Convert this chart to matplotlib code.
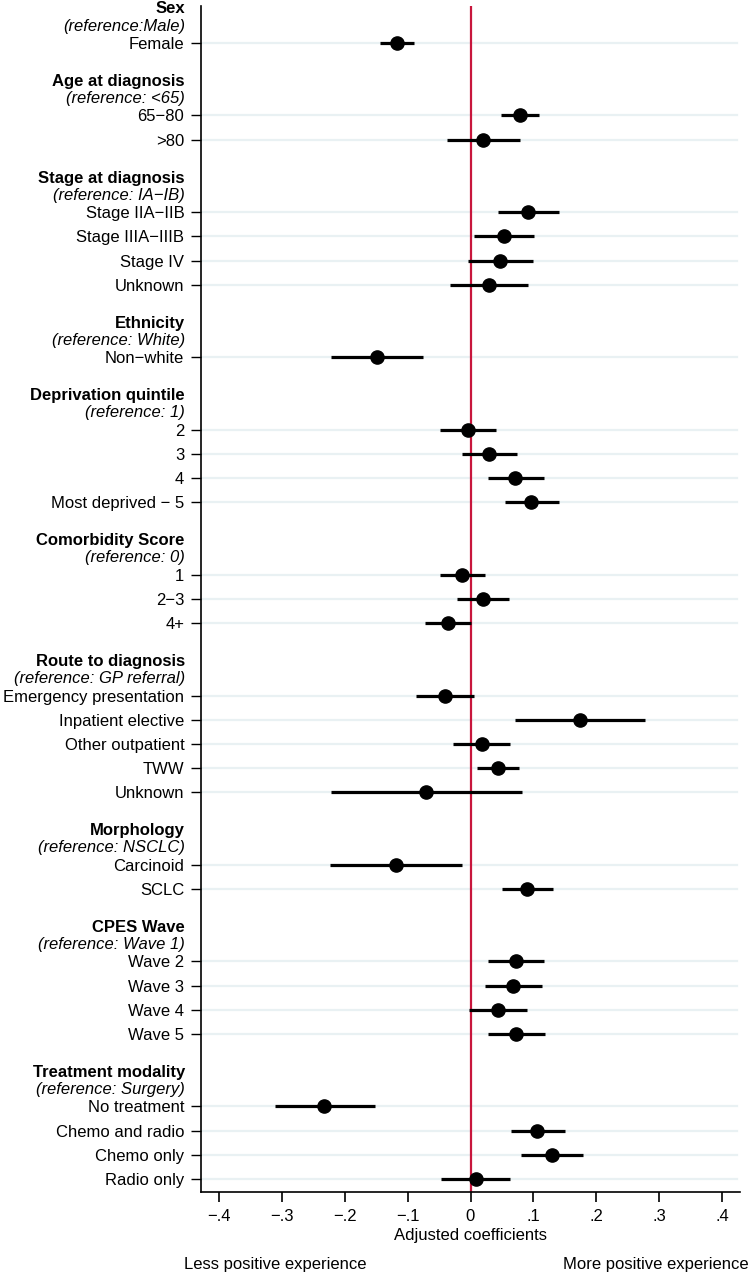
import numpy as np
import matplotlib.pyplot as plt
from matplotlib.transforms import blended_transform_factory

plt.rcParams['font.family'] = ['Liberation Sans', 'DejaVu Sans']
FS = 12

# groups: header, reference text, item labels
headers = ["Sex", "Age at diagnosis", "Stage at diagnosis", "Ethnicity",
           "Deprivation quintile", "Comorbidity Score", "Route to diagnosis",
           "Morphology", "CPES Wave", "Treatment modality"]
refs = ["(reference:Male)", "(reference: <65)", "(reference: IA\u2212IB)",
        "(reference: White)", "(reference: 1)", "(reference: 0)",
        "(reference: GP referral)", "(reference: NSCLC)", "(reference: Wave 1)",
        "(reference: Surgery)"]
items = [
    ["Female"],
    ["65\u221280", ">80"],
    ["Stage IIA\u2212IIB", "Stage IIIA\u2212IIIB", "Stage IV", "Unknown"],
    ["Non\u2212white"],
    ["2", "3", "4", "Most deprived \u2212 5"],
    ["1", "2\u22123", "4+"],
    ["Emergency presentation", "Inpatient elective", "Other outpatient", "TWW", "Unknown"],
    ["Carcinoid", "SCLC"],
    ["Wave 2", "Wave 3", "Wave 4", "Wave 5"],
    ["No treatment", "Chemo and radio", "Chemo only", "Radio only"],
]
coef = [
    [-0.117],
    [0.078, 0.020],
    [0.091, 0.053, 0.047, 0.029],
    [-0.149],
    [-0.004, 0.029, 0.071, 0.096],
    [-0.013, 0.020, -0.036],
    [-0.041, 0.174, 0.019, 0.043, -0.071],
    [-0.119, 0.090],
    [0.072, 0.067, 0.043, 0.072],
    [-0.232, 0.106, 0.129, 0.008],
]
lower = [
    [-0.143],
    [0.049, -0.037],
    [0.043, 0.006, -0.004, -0.032],
    [-0.221],
    [-0.048, -0.014, 0.028, 0.054],
    [-0.049, -0.021, -0.072],
    [-0.087, 0.071, -0.027, 0.011, -0.222],
    [-0.223, 0.050],
    [0.028, 0.023, -0.002, 0.027],
    [-0.311, 0.064, 0.080, -0.047],
]
upper = [
    [-0.090],
    [0.108, 0.078],
    [0.141, 0.101, 0.099, 0.091],
    [-0.076],
    [0.040, 0.074, 0.116, 0.141],
    [0.023, 0.061, 0.000],
    [0.005, 0.277, 0.063, 0.077, 0.082],
    [-0.014, 0.131],
    [0.116, 0.113, 0.089, 0.118],
    [-0.151, 0.150, 0.178, 0.062],
]
xticks = [-0.4, -0.3, -0.2, -0.1, 0, 0.1, 0.2, 0.3, 0.4]
xticklabels = ["\u2212.4", "\u2212.3", "\u2212.2", "\u2212.1", "0", ".1", ".2", ".3", ".4"]

fig = plt.figure(figsize=(7.49, 12.75), dpi=100)
ax = fig.add_axes([201 / 749, 1 - 1192 / 1275, 539 / 749, 1186 / 1275])

# row positions: each group starts 3 rows after the previous one ends
ypos, labels, est, lo, hi, first_rows = [], [], [], [], [], []
row = 0
for g in range(len(headers)):
    first_rows.append(row)
    for k, lab in enumerate(items[g]):
        ypos.append(row)
        labels.append(lab)
        est.append(coef[g][k])
        lo.append(lower[g][k])
        hi.append(upper[g][k])
        row += 1
    row += 2
ypos = np.array(ypos)

for y in ypos:
    ax.axhline(y, color='#e9f1f3', lw=1.6, zorder=0, xmax=0.995)
ax.axvline(0, color='#c8163c', lw=1.6, zorder=1)
ax.hlines(ypos, lo, hi, color='black', lw=2.3, zorder=2)
ax.plot(est, ypos, 'o', color='black', ms=9.5, zorder=3)

tr = blended_transform_factory(ax.transAxes, ax.transData)
for g in range(len(headers)):
    y0 = first_rows[g]
    ax.text(-0.03, y0 - 1.41, headers[g], transform=tr, ha='right', va='center',
            fontsize=FS, fontweight='bold')
    ax.text(-0.03, y0 - 0.70, refs[g], transform=tr, ha='right', va='center',
            fontsize=FS, style='italic')

ax.set_yticks(ypos)
ax.set_yticklabels(labels, fontsize=FS)
ax.set_ylim(ypos[-1] + 0.54, -1.53)
ax.set_xlim(-0.428, 0.428)
ax.set_xticks(xticks)
ax.set_xticklabels(xticklabels, fontsize=FS)
ax.tick_params(axis='y', length=7, width=1, pad=5)
ax.tick_params(axis='x', length=7, width=1.2, pad=5)
ax.spines['top'].set_visible(False)
ax.spines['right'].set_visible(False)
ax.spines['left'].set_linewidth(1.2)
ax.spines['bottom'].set_linewidth(1.2)
ax.set_xlabel("Adjusted coefficients", fontsize=FS, labelpad=3)

fig.text(184 / 749, 1 - 1265 / 1275, "Less positive experience", ha='left', va='center', fontsize=FS)
fig.text(749 / 749, 1 - 1265 / 1275, "More positive experience", ha='right', va='center', fontsize=FS)

fig.savefig("out.png", dpi=100)
